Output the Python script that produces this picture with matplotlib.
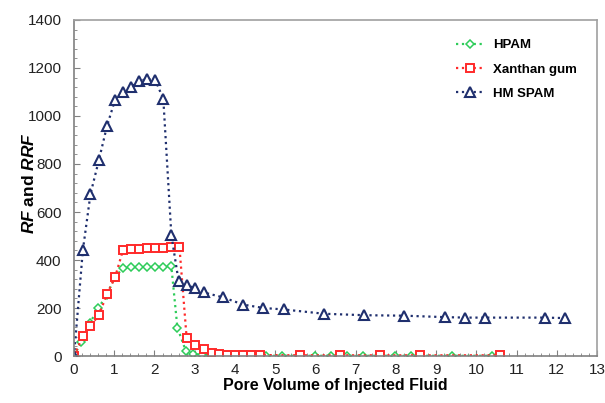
import matplotlib
matplotlib.use("Agg")
import matplotlib.pyplot as plt
from matplotlib.ticker import MultipleLocator

plt.rcParams['font.family'] = ['Liberation Sans', 'DejaVu Sans']
plt.rcParams['mathtext.fontset'] = 'custom'
plt.rcParams['mathtext.it'] = 'Liberation Sans:bold:italic'
plt.rcParams['mathtext.bf'] = 'Liberation Sans:bold'

# HM SPAM
spam_x = [0, 0.22, 0.41, 0.62, 0.82, 1.02, 1.22, 1.42, 1.62, 1.82, 2.02, 2.22, 2.42,
          2.60, 2.80, 3.01, 3.22, 3.71, 4.21, 4.71, 5.21, 6.22, 7.22, 8.21, 9.21,
          9.73, 10.22, 11.70, 12.21]
spam_y = [0, 440, 675, 817, 958, 1067, 1100, 1121, 1146, 1154, 1150, 1071, 504,
          312, 296, 282, 265, 244, 214, 200, 194, 176, 170, 168, 162,
          160, 160, 160, 158]

# Xanthan gum
xan_x = [0, 0.22, 0.41, 0.62, 0.82, 1.02, 1.22, 1.42, 1.62, 1.82, 2.02, 2.22, 2.42,
         2.62, 2.80, 3.01, 3.22, 3.42, 3.61, 3.80, 4.00, 4.20, 4.40, 4.62, 5.61,
         6.60, 7.61, 8.60, 10.60]
xan_y = [0, 83, 125, 171, 258, 328, 442, 444, 446, 448, 450, 452, 454,
         456, 75, 46, 28, 14, 8, 6, 5, 4, 4, 4, 3,
         3, 3, 3, 3]

# HPAM
hpam_x = [0, 0.18, 0.40, 0.60, 0.81, 1.02, 1.22, 1.42, 1.62, 1.82, 2.02, 2.22, 2.42,
          2.57, 2.78, 2.97, 3.18, 3.38, 3.58, 3.78, 3.98, 4.18, 4.42, 4.78, 5.18,
          5.60, 5.99, 6.39, 6.78, 7.18, 7.59, 7.99, 8.38, 9.39, 10.40]
hpam_y = [0, 60, 139, 198, 254, 328, 368, 370, 370, 371, 372, 372, 373,
          118, 21, 8, 5, 3, 2, 2, 1, 1, 1, 1, 1,
          1, 1, 1, 1, 1, 1, 1, 1, 1, 1]

fig = plt.figure(figsize=(6.05, 4.03), dpi=100)
ax = fig.add_axes([0.1223, 0.1166, 0.8645, 0.8338])

ax.plot(hpam_x, hpam_y, linestyle=':', color='#2ecc5a', lw=1.6, marker='D',
        markersize=4, markerfacecolor='white', markeredgecolor='#2ecc5a',
        markeredgewidth=1.1, label='HPAM')
ax.plot(xan_x, xan_y, linestyle=':', color='#ff2a2a', lw=1.6, marker='s',
        markersize=6, markerfacecolor='white', markeredgecolor='#ff2a2a',
        markeredgewidth=1.4, label='Xanthan gum')
ax.plot(spam_x, spam_y, linestyle=':', color='#1f2f6e', lw=1.6, marker='^',
        markersize=6.5, markerfacecolor='white', markeredgecolor='#1f2f6e',
        markeredgewidth=1.5, label='HM SPAM')

ax.set_xlim(0, 13)
ax.set_ylim(0, 1400)
ax.xaxis.set_major_locator(MultipleLocator(1))
ax.xaxis.set_minor_locator(MultipleLocator(0.2))
ax.yaxis.set_major_locator(MultipleLocator(200))
ax.yaxis.set_minor_locator(MultipleLocator(40))
ax.tick_params(which='both', direction='in', top=False, right=False, colors='#808080',
               labelcolor='#222222', labelsize=11)
ax.tick_params(which='major', length=4)
ax.tick_params(which='minor', length=2.5)
ax.tick_params(axis='y', which='major', pad=9)
ax.tick_params(axis='x', which='major', pad=5)
for s in ['left', 'bottom']:
    ax.spines[s].set_color('#808080')
    ax.spines[s].set_linewidth(1.2)
for s in ['top', 'right']:
    ax.spines[s].set_color('#a0a0a0')
    ax.spines[s].set_linewidth(1.2)

ax.set_xlabel('Pore Volume of Injected Fluid', fontsize=11.5, fontweight='bold', labelpad=1)
ax.set_ylabel(r'$\mathit{RF}$' + ' and ' + r'$\mathit{RRF}$', fontsize=12.5,
              fontweight='bold')
ax.yaxis.set_label_coords(-0.071, 0.515)

leg = ax.legend(loc='upper right', bbox_to_anchor=(0.985, 0.978), frameon=False,
                handlelength=2.0, labelspacing=0.9,
                prop={'weight': 'bold', 'size': 9.5})

fig.savefig('out.png', dpi=100)
